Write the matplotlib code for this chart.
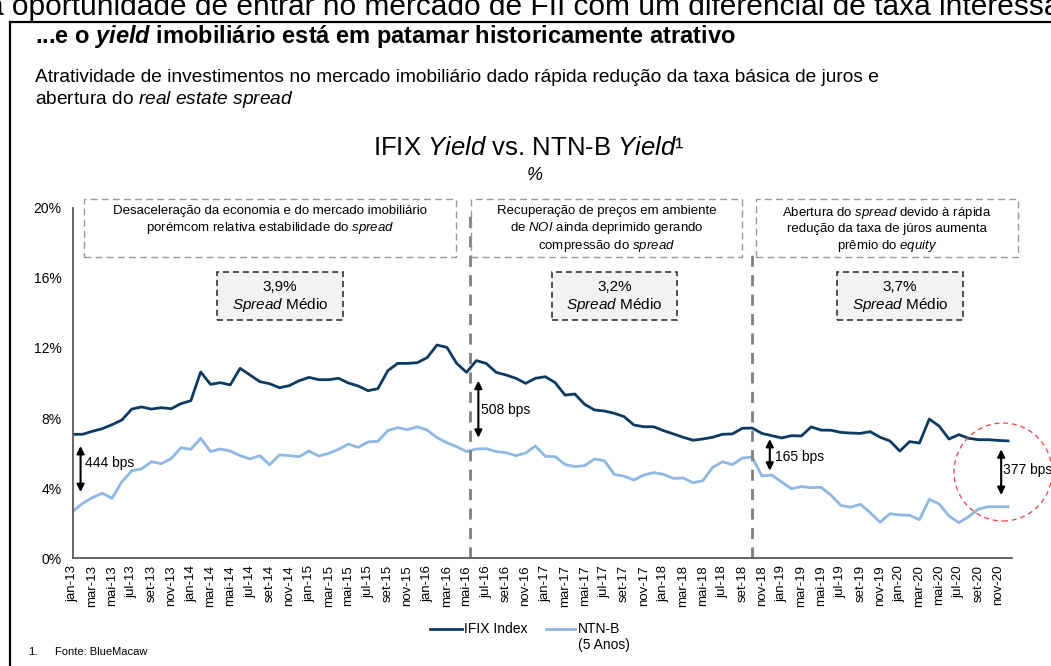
import matplotlib
matplotlib.use("Agg")
import matplotlib.pyplot as plt
from matplotlib.patches import Rectangle, Ellipse
from matplotlib.lines import Line2D

plt.rcParams["font.family"] = ["Liberation Sans", "DejaVu Sans"]
plt.rcParams["mathtext.fontset"] = "custom"
plt.rcParams["mathtext.rm"] = "Liberation Sans"
plt.rcParams["mathtext.it"] = "Liberation Sans:italic"
plt.rcParams["mathtext.bf"] = "Liberation Sans:bold"
plt.rcParams["mathtext.bfit"] = "Liberation Sans:italic:bold"

# dados (jan-13 a dez-20, mensal)
months = ["jan", "fev", "mar", "abr", "mai", "jun", "jul", "ago", "set", "out", "nov", "dez"]
years = ["13", "14", "15", "16", "17", "18", "19", "20"]
categories = [f"{m}-{y}" for y in years for m in months]

ifix = [7.07, 7.07, 7.24, 7.39, 7.62, 7.89, 8.51, 8.63, 8.51, 8.59, 8.53, 8.82,
        8.99, 10.63, 9.92, 10.02, 9.89, 10.84, 10.46, 10.08, 9.96, 9.73, 9.85, 10.13,
        10.32, 10.19, 10.19, 10.27, 10.00, 9.83, 9.56, 9.68, 10.70, 11.12, 11.12, 11.16,
        11.45, 12.17, 12.04, 11.12, 10.61, 11.28, 11.12, 10.61, 10.46, 10.27, 9.98, 10.27,
        10.36, 10.02, 9.31, 9.37, 8.78, 8.46, 8.40, 8.27, 8.08, 7.60, 7.50, 7.50,
        7.28, 7.09, 6.90, 6.73, 6.80, 6.90, 7.07, 7.09, 7.41, 7.43, 7.12, 6.99,
        6.86, 6.99, 6.97, 7.49, 7.31, 7.30, 7.18, 7.14, 7.12, 7.22, 6.90, 6.69,
        6.11, 6.65, 6.57, 7.94, 7.54, 6.80, 7.05, 6.84, 6.76, 6.76, 6.72, 6.69]

ntnb = [2.65, 3.12, 3.45, 3.70, 3.41, 4.36, 4.99, 5.09, 5.50, 5.39, 5.68, 6.30,
        6.21, 6.84, 6.08, 6.23, 6.11, 5.85, 5.66, 5.85, 5.33, 5.89, 5.85, 5.79,
        6.11, 5.83, 5.98, 6.21, 6.51, 6.32, 6.63, 6.67, 7.28, 7.45, 7.33, 7.50,
        7.31, 6.88, 6.59, 6.36, 6.08, 6.23, 6.25, 6.08, 6.02, 5.85, 6.00, 6.40,
        5.81, 5.79, 5.35, 5.22, 5.28, 5.66, 5.56, 4.78, 4.67, 4.46, 4.74, 4.88,
        4.78, 4.55, 4.57, 4.30, 4.42, 5.18, 5.50, 5.33, 5.71, 5.77, 4.69, 4.74,
        4.34, 3.96, 4.08, 4.02, 4.04, 3.60, 3.01, 2.90, 3.07, 2.59, 2.04, 2.53,
        2.46, 2.44, 2.19, 3.35, 3.09, 2.40, 2.02, 2.36, 2.80, 2.93, 2.93, 2.93]

yticks = [0, 4, 8, 12, 16, 20]
phase_lines = [40.4, 69]
phase_tops = [19.6, 17.7]
# (x, y_topo, y_base, texto, x_texto, y_texto)
spreads = [(0.8, 6.4, 3.77, "444 bps", 1.25, 5.43),
           (41.2, 10.13, 6.87, "508 bps", 41.45, 8.46),
           (70.8, 6.8, 4.99, "165 bps", 71.3, 5.79),
           (94.3, 6.21, 3.6, "377 bps", 94.5, 5.03)]
phase_texts = ["Desaceleração da economia e do mercado imobiliário\nporémcom relativa estabilidade do $\\mathit{spread}$",
               "Recuperação de preços em ambiente\nde $\\mathit{NOI}$ ainda deprimido gerando\ncompressão do $\\mathit{spread}$",
               "Abertura do $\\mathit{spread}$ devido à rápida\nredução da taxa de júros aumenta\nprêmio do $\\mathit{equity}$"]
avg_spreads = ["3,9%", "3,2%", "3,7%"]

W, H = 1051, 666
def fx(x):
    return x / W
def fy(y):
    return 1 - y / H

fig = plt.figure(figsize=(10.51, 6.66), dpi=100)

# moldura e cabeçalho
fig.add_artist(Rectangle((fx(10), fy(700)), fx(1100), 678 / H, transform=fig.transFigure,
                         fill=False, ec="black", lw=1.6))
fig.text(fx(-13), fy(15), "a oportunidade de entrar no mercado de FII com um diferencial de taxa interessante",
         fontsize=21.5, va="baseline", ha="left")
fig.text(fx(35), fy(37), r"...e o $\mathbfit{yield}$ imobiliário está em patamar historicamente atrativo",
         fontsize=17, fontweight="bold", va="center")
fig.text(fx(35), fy(77), "Atratividade de investimentos no mercado imobiliário dado rápida redução da taxa básica de juros e",
         fontsize=13.8, va="center")
fig.text(fx(35), fy(100), r"abertura do $\mathit{real\ estate\ spread}$", fontsize=13.8, va="center")

fig.text(fx(529), fy(148), r"IFIX $\mathit{Yield}$ vs. NTN-B $\mathit{Yield}$¹", fontsize=18.5, ha="center", va="center")
fig.text(fx(535), fy(175), "%", fontsize=13, style="italic", ha="center", va="center")

# eixo
ax = fig.add_axes([fx(72.7), 108 / H, (1012 - 72.7) / W, 350 / H])
x = list(range(len(categories)))
ax.plot(x, ifix, color="#0B3A62", lw=2, solid_joinstyle="round")
ax.plot(x, ntnb, color="#8DB8E6", lw=2, solid_joinstyle="round")
ax.set_xlim(0, 95.4)
ax.set_ylim(0, 20)
ax.set_yticks(yticks)
ax.set_yticklabels([f"{v}%" for v in yticks], fontsize=10)
ax.set_xticks(x[::2])
ax.set_xticklabels(categories[::2], rotation=90, fontsize=9.5)
ax.tick_params(length=0)
ax.tick_params(axis="y", pad=8)
ax.tick_params(axis="x", pad=5)
for s in ["top", "right"]:
    ax.spines[s].set_visible(False)
for s in ["left", "bottom"]:
    ax.spines[s].set_color("#595959")
    ax.spines[s].set_linewidth(1.3)

for xl, top in zip(phase_lines, phase_tops):
    ax.plot([xl, xl], [0, top], color="#7f7f7f", lw=2, ls=(0, (4, 3)), clip_on=False)

for xa, y1, y2, label, xt, yt in spreads:
    ax.annotate("", xy=(xa, y1), xytext=(xa, y2),
                arrowprops=dict(arrowstyle="<|-|>", color="black", lw=1.5, mutation_scale=11,
                                shrinkA=0, shrinkB=0), annotation_clip=False)
    ax.text(xt, yt, label, fontsize=10, va="center", ha="left", clip_on=False)

# caixas das fases
boxes = [(84, 456), (471, 742), (756, 1018)]
for (x0, x1), txt in zip(boxes, phase_texts):
    fig.add_artist(Rectangle((fx(x0), fy(257)), fx(x1 - x0), 58 / H, transform=fig.transFigure,
                             fill=False, ec="#999999", lw=1, ls=(0, (5, 3))))
    fig.text(fx((x0 + x1) / 2), fy(205), txt, fontsize=9.5, ha="center", va="top", linespacing=1.25)

avg_boxes = [(217, 343), (552, 677), (837, 963)]
for (x0, x1), v in zip(avg_boxes, avg_spreads):
    fig.add_artist(Rectangle((fx(x0), fy(320)), fx(x1 - x0), 48 / H, transform=fig.transFigure,
                             fc="#F2F2F2", ec="#222222", lw=1.1, ls=(0, (4, 2.5))))
    fig.text(fx((x0 + x1) / 2), fy(287), v, fontsize=11, ha="center", va="center")
    fig.text(fx((x0 + x1) / 2), fy(305), r"$\mathit{Spread}$ Médio", fontsize=11, ha="center", va="center")

# círculo vermelho
fig.add_artist(Ellipse((fx(1003), fy(472)), fx(98), 98 / H, transform=fig.transFigure,
                       fill=False, ec="#FF3B3B", lw=0.9, ls=(0, (4, 3))))

# legenda
fig.add_artist(Line2D([fx(430), fx(462)], [fy(629), fy(629)], color="#0B3A62", lw=2))
fig.text(fx(464), fy(629), "IFIX Index", fontsize=10, va="center")
fig.add_artist(Line2D([fx(546), fx(575)], [fy(629), fy(629)], color="#8DB8E6", lw=2))
fig.text(fx(578), fy(629), "NTN-B", fontsize=10, va="center")
fig.text(fx(578), fy(645), "(5 Anos)", fontsize=10, va="center")

fig.text(fx(28), fy(652), "1.", fontsize=8, va="center")
fig.text(fx(55), fy(652), "Fonte: BlueMacaw", fontsize=8, va="center")

fig.savefig("out.png", dpi=100)
plt.close()
